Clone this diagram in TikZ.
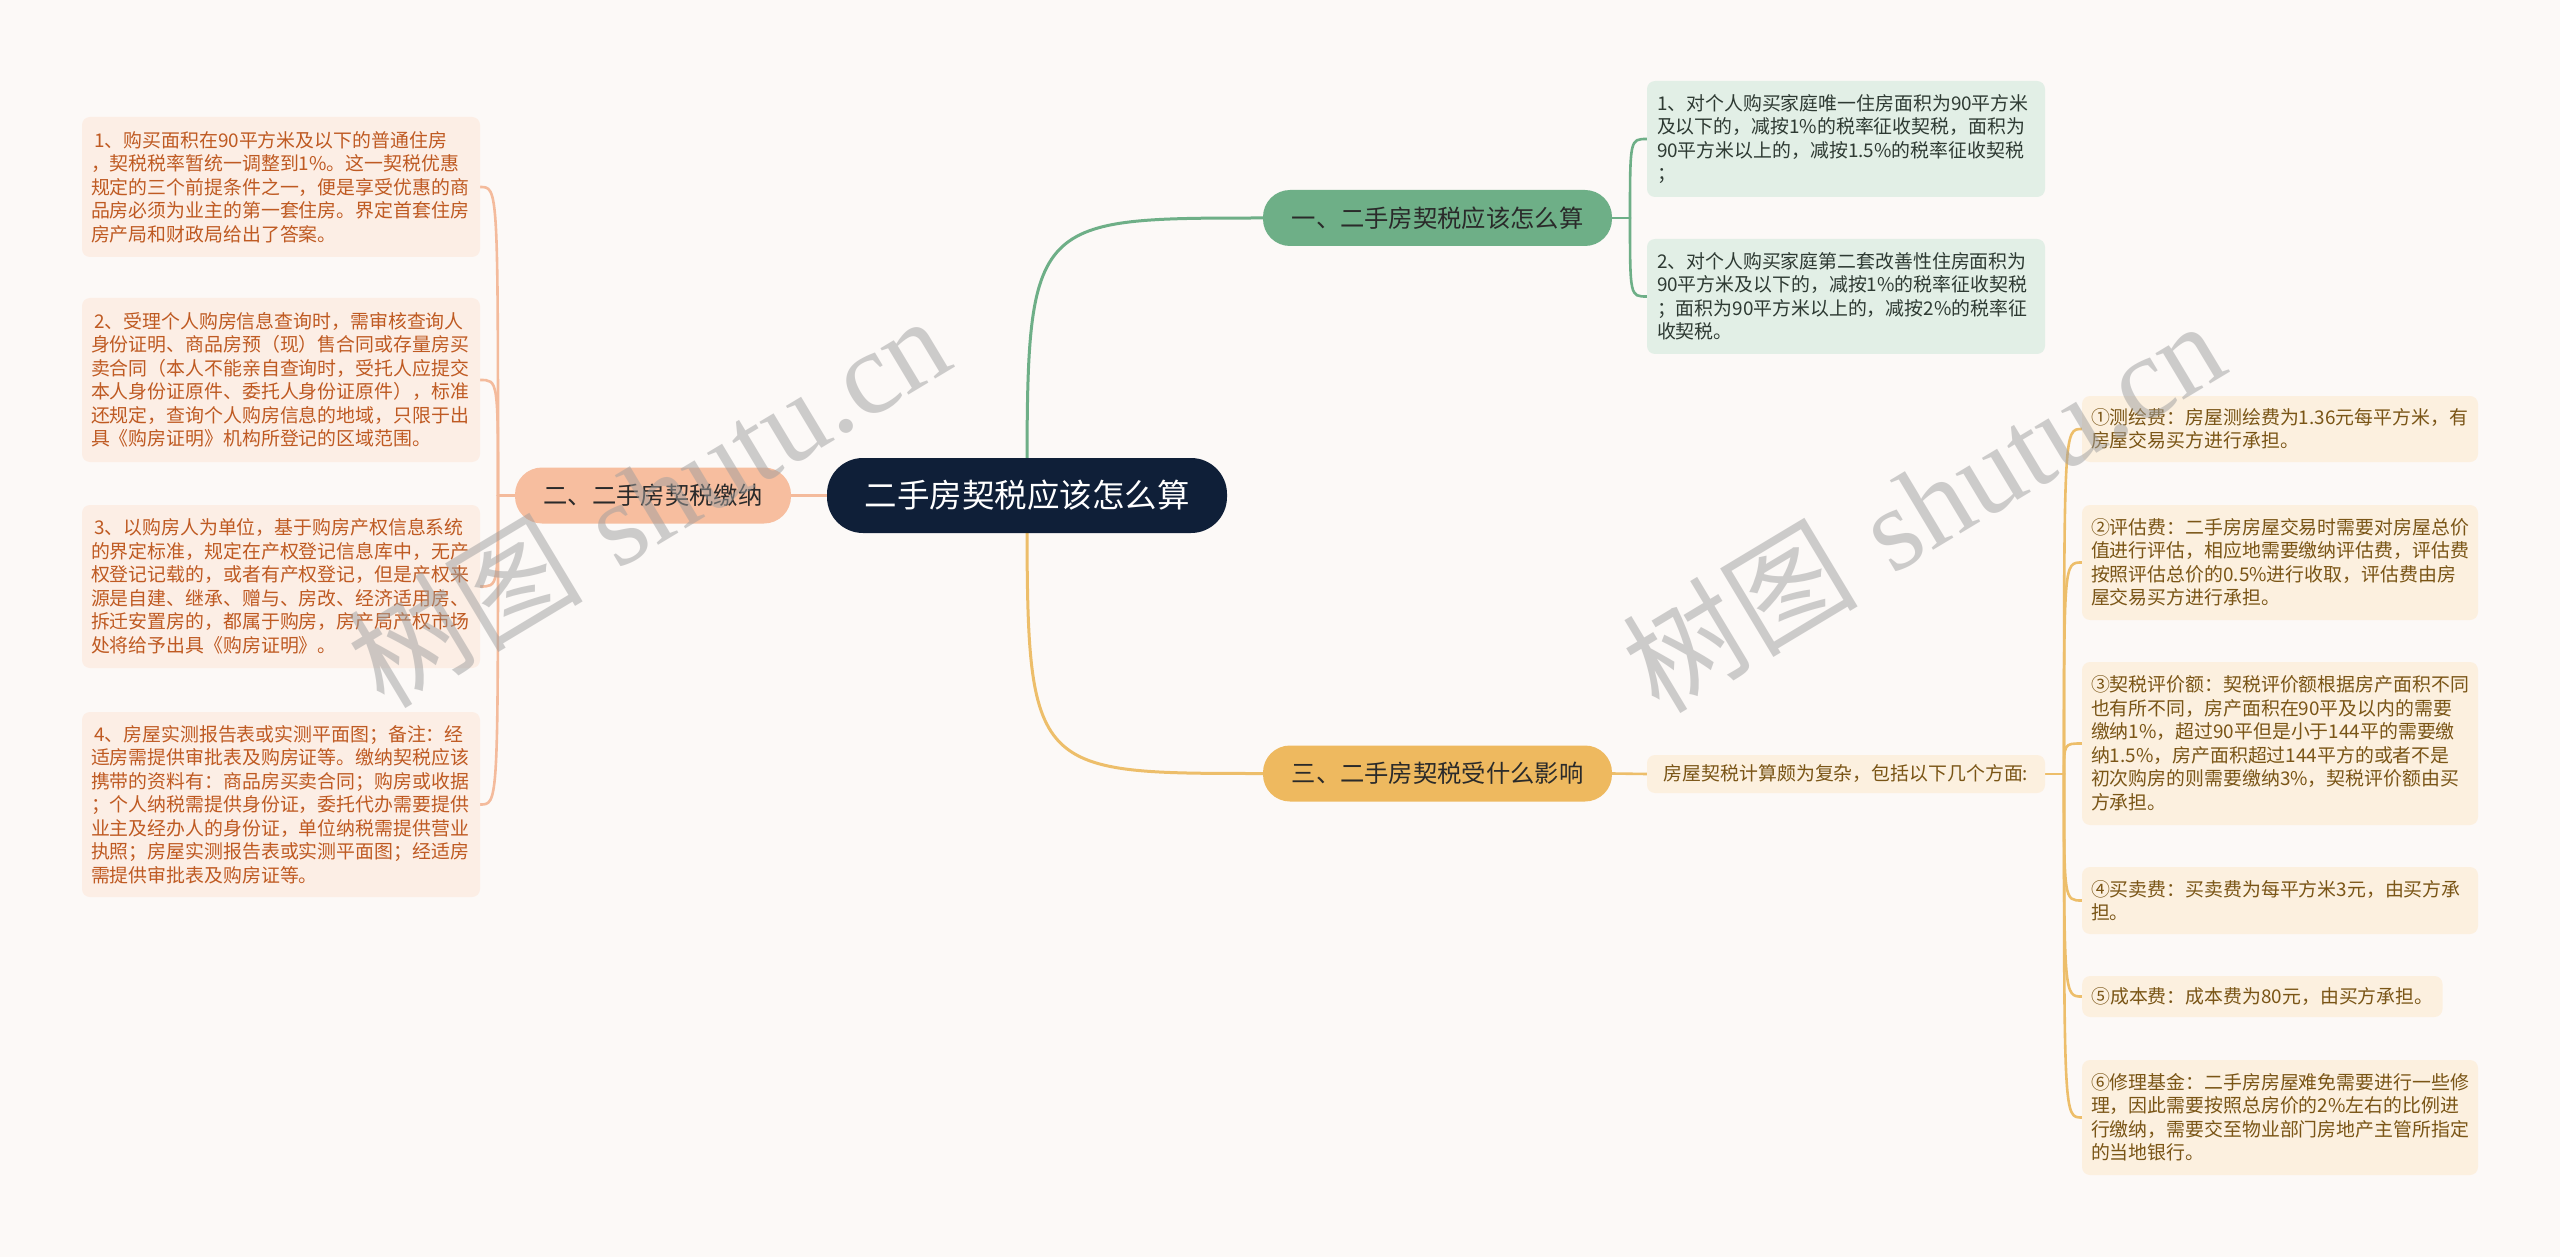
\documentclass[tikz,border=0pt]{standalone}
\usepackage{fontspec}
\newfontfamily\cjk{Noto Sans CJK SC}
\newfontfamily\wmserif{Liberation Serif}
\usetikzlibrary{calc}
\pgfdeclarelayer{paper}
\pgfdeclarelayer{bg}
\pgfsetlayers{paper,bg,main}
\definecolor{pagebg}{HTML}{FCF9F7}
\definecolor{rootfill}{HTML}{0F1F38}
\definecolor{lbfill}{HTML}{F7BE9F}
\definecolor{lline}{HTML}{F4BB9C}
\definecolor{lleaf}{HTML}{FCEEE5}
\definecolor{ltext}{HTML}{BF5A22}
\definecolor{gbfill}{HTML}{6EAF87}
\definecolor{gline}{HTML}{6EAF87}
\definecolor{gleaf}{HTML}{E2EFE6}
\definecolor{gtext}{HTML}{2E3A33}
\definecolor{obfill}{HTML}{EEB95F}
\definecolor{oline}{HTML}{EDBE6A}
\definecolor{oleaf}{HTML}{FCF0DF}
\definecolor{otext}{HTML}{7A5516}
\definecolor{btext}{HTML}{2A2A2A}
\definecolor{wmgray}{HTML}{9E9E9E}
\begin{document}
\begin{tikzpicture}[x=1pt,y=-1pt,
  rootbox/.style={fill=rootfill, text=white, rounded corners=36pt, minimum width=400pt, minimum height=75pt, inner sep=0pt, font=\cjk\fontsize{32.5}{36}\selectfont},
  branchbox/.style={rounded corners=27pt, minimum height=56pt, inner sep=0pt, text=btext, font=\cjk\fontsize{24.3}{28}\selectfont},
  leafbox/.style={rounded corners=8pt, align=left, inner ysep=0pt, inner xsep=9pt, text width=380pt, font=\cjk\fontsize{18.9}{23.5}\selectfont},
  lleafbox/.style={leafbox, fill=lleaf, text=ltext},
  gleafbox/.style={leafbox, fill=gleaf, text=gtext, inner xsep=10pt, text width=378pt},
  oleafbox/.style={leafbox, fill=oleaf, text=otext, text width=378pt},
  mainline/.style={line width=3pt, line cap=round},
  brace/.style={line width=2.6pt, line cap=round},
  wmark/.style={text=wmgray, opacity=0.5, inner sep=0pt, font=\fontsize{118}{125}\selectfont}
]
\useasboundingbox (0,0) rectangle (2560,1257);
\begin{pgfonlayer}{paper}
\fill[pagebg] (0,0) rectangle (2560,1257);
\end{pgfonlayer}

% root and branches
\node[rootbox] (root) at (1027,495.5) {二手房契税应该怎么算};
\node[branchbox, fill=lbfill, minimum width=276pt] (lb) at (653,495.5) {二、二手房契税缴纳};
\node[branchbox, fill=gbfill, minimum width=349pt] (gb) at (1437.5,218) {一、二手房契税应该怎么算};
\node[branchbox, fill=obfill, minimum width=349pt] (ob) at (1437.5,773.5) {三、二手房契税受什么影响};

% left leaves
\node[lleafbox, minimum height=140pt] (l1) at (281,187) {\,1、购买面积在90平方米及以下的普通住房\\，契税税率暂统一调整到1\%。这一契税优惠\\规定的三个前提条件之一，便是享受优惠的商\\品房必须为业主的第一套住房。界定首套住房\\房产局和财政局给出了答案。};
\node[lleafbox, minimum height=164pt] (l2) at (281,380) {\,2、受理个人购房信息查询时，需审核查询人\\身份证明、商品房预（现）售合同或存量房买\\卖合同（本人不能亲自查询时，受托人应提交\\本人身份证原件、委托人身份证原件），标准\\还规定，查询个人购房信息的地域，只限于出\\具《购房证明》机构所登记的区域范围。};
\node[lleafbox, minimum height=163pt] (l3) at (281,586.5) {\,3、以购房人为单位，基于购房产权信息系统\\的界定标准，规定在产权登记信息库中，无产\\权登记记载的，或者有产权登记，但是产权来\\源是自建、继承、赠与、房改、经济适用房、\\拆迁安置房的，都属于购房，房产局产权市场\\处将给予出具《购房证明》。};
\node[lleafbox, minimum height=185pt] (l4) at (281,804.5) {\,4、房屋实测报告表或实测平面图；备注：经\\适房需提供审批表及购房证等。缴纳契税应该\\携带的资料有：商品房买卖合同；购房或收据\\；个人纳税需提供身份证，委托代办需要提供\\业主及经办人的身份证，单位纳税需提供营业\\执照；房屋实测报告表或实测平面图；经适房\\需提供审批表及购房证等。};

% green leaves
\node[gleafbox, minimum height=116pt] (g1) at (1846,139) {1、对个人购买家庭唯一住房面积为90平方米\\及以下的，减按1\%的税率征收契税，面积为\\90平方米以上的，减按1.5\%的税率征收契税\\；};
\node[gleafbox, minimum height=115pt] (g2) at (1846,296.5) {2、对个人购买家庭第二套改善性住房面积为\\90平方米及以下的，减按1\%的税率征收契税\\；面积为90平方米以上的，减按2\%的税率征\\收契税。};

% gold intermediate and leaves
\node[rounded corners=8pt, fill=oleaf, text=otext, minimum width=398pt, minimum height=38pt, inner sep=0pt, font=\cjk\fontsize{18.9}{23.5}\selectfont] (oi) at (1846,774) {房屋契税计算颇为复杂，包括以下几个方面:};
\node[oleafbox, minimum height=66pt] (o1) at (2280,429) {①测绘费：房屋测绘费为1.36元每平方米，有\\房屋交易买方进行承担。};
\node[oleafbox, minimum height=115pt] (o2) at (2280,562.5) {②评估费：二手房房屋交易时需要对房屋总价\\值进行评估，相应地需要缴纳评估费，评估费\\按照评估总价的0.5\%进行收取，评估费由房\\屋交易买方进行承担。};
\node[oleafbox, minimum height=163pt] (o3) at (2280,743.5) {③契税评价额：契税评价额根据房产面积不同\\也有所不同，房产面积在90平及以内的需要\\缴纳1\%，超过90平但是小于144平的需要缴\\纳1.5\%，房产面积超过144平方的或者不是\\初次购房的则需要缴纳3\%，契税评价额由买\\方承担。};
\node[oleafbox, minimum height=67pt] (o4) at (2280,900.5) {④买卖费：买卖费为每平方米3元，由买方承\\担。};
\node[rounded corners=8pt, fill=oleaf, text=otext, minimum height=41pt, inner ysep=0pt, inner xsep=9pt, anchor=west, font=\cjk\fontsize{18.9}{23.5}\selectfont] (o5) at (2082,996.5) {⑤成本费：成本费为80元，由买方承担。};
\node[oleafbox, minimum height=115pt] (o6) at (2280,1117.5) {⑥修理基金：二手房房屋难免需要进行一些修\\理，因此需要按照总房价的2\%左右的比例进\\行缴纳，需要交至物业部门房地产主管所指定\\的当地银行。};

% stems
\coordinate (ls) at (498,495.5);
\coordinate (gs) at (1630,218);
\coordinate (os) at (2064,774);

\begin{pgfonlayer}{bg}
  % root to branches
  \draw[mainline, lline] (root.west) -- (lb.east);
  \draw[mainline, gline] (root.center) .. controls (root.center |- gb.west) .. (gb.west);
  \draw[mainline, oline] (root.center) .. controls (root.center |- ob.west) .. (ob.west);
  % left brace
  \draw[brace, lline] (lb.west) -- (ls);
  \foreach \n in {l1,l2,l3,l4}
    \draw[brace, lline] (ls) .. controls (ls |- \n.east) .. (\n.east);
  % green brace
  \draw[brace, gline] (gb.east) -- (gs);
  \foreach \n in {g1,g2}
    \draw[brace, gline] (gs) .. controls (gs |- \n.west) .. (\n.west);
  % gold
  \draw[brace, oline] (ob.east) -- (oi.west);
  \draw[brace, oline] (oi.east) -- (os);
  \foreach \n in {o1,o2,o3,o4,o5,o6}
    \draw[brace, oline] (os) .. controls (os |- \n.west) .. (\n.west);
\end{pgfonlayer}

% watermarks
\node[wmark, rotate=31] (wm1) at (648,500) {{\cjk 树图} {\wmserif shutu.cn}};
\node[wmark, rotate=31] (wm2) at (1923,505) {{\cjk 树图} {\wmserif shutu.cn}};
\end{tikzpicture}
\end{document}
